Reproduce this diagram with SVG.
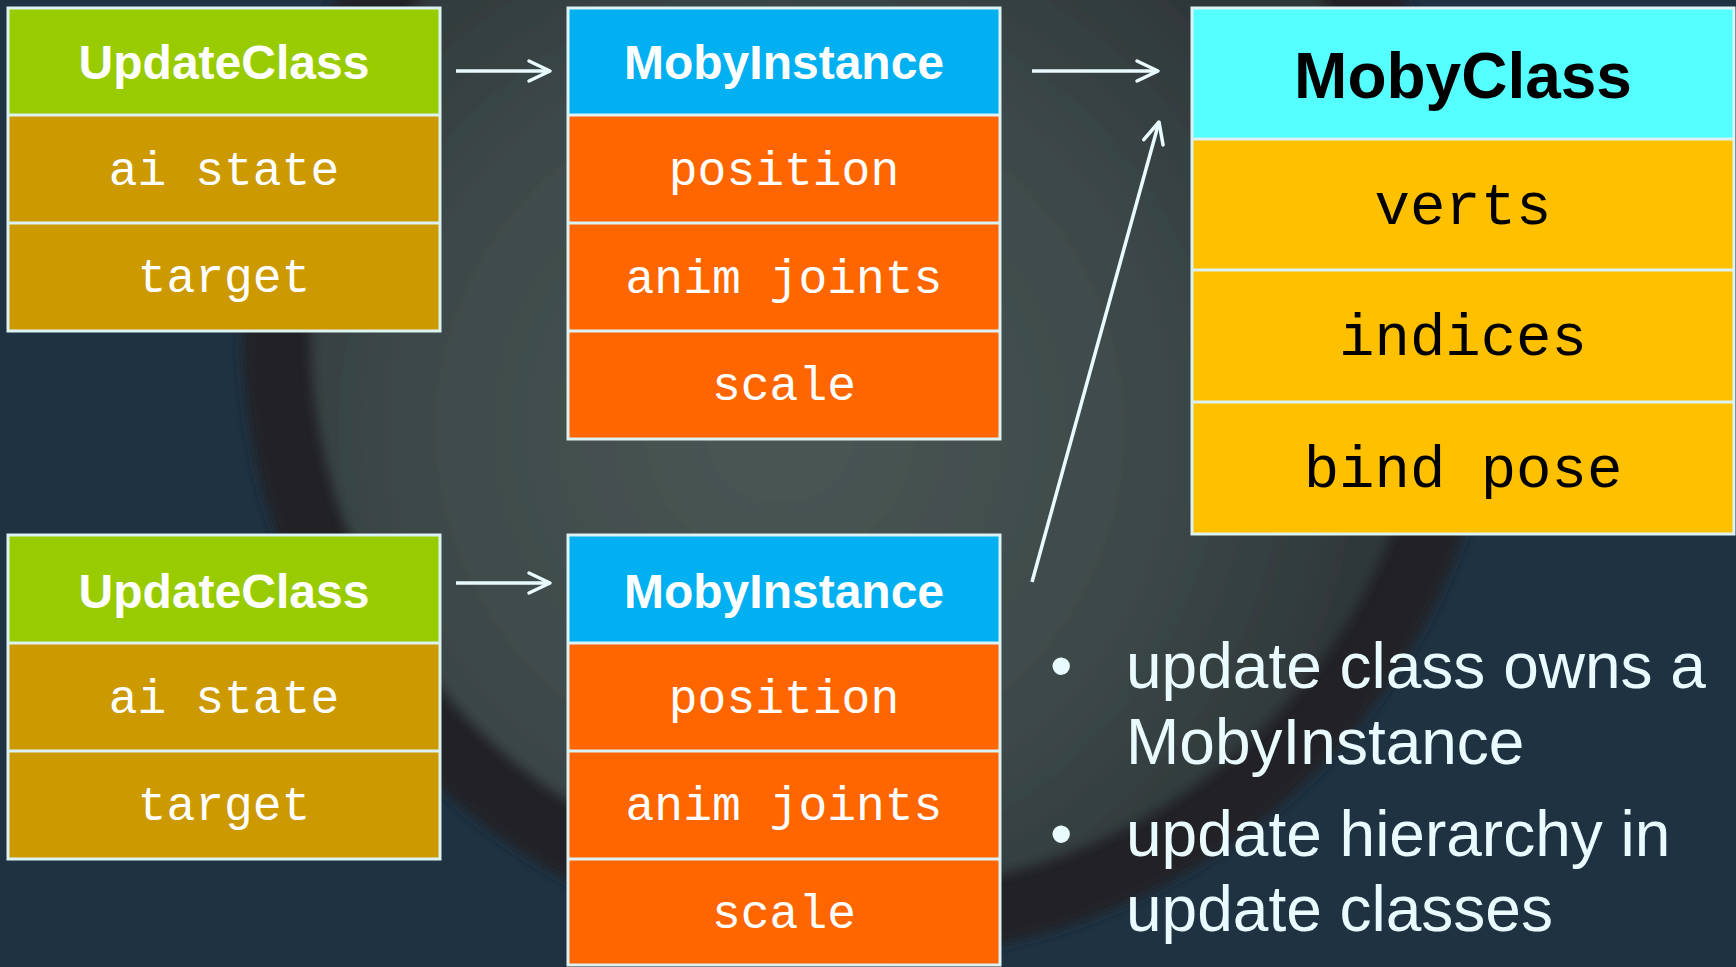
<svg xmlns="http://www.w3.org/2000/svg" width="1736" height="967" viewBox="0 0 1736 967">
<style>
.bd{stroke:#DCF2F4;stroke-width:3;}
.ttl{font-family:"Liberation Sans",Arial,sans-serif;font-weight:bold;font-size:48px;text-anchor:middle;fill:#FFFFFF;}
.ttlb{font-family:"Liberation Sans",Arial,sans-serif;font-weight:bold;font-size:64px;text-anchor:middle;fill:#000000;}
.mono{font-family:"Liberation Mono","Courier New",monospace;font-size:48px;text-anchor:middle;fill:#FFFFFF;}
.monob{font-family:"Liberation Mono","Courier New",monospace;font-size:59px;text-anchor:middle;fill:#000000;}
.bul{font-family:"Liberation Sans",Arial,sans-serif;font-size:64px;fill:#EAFBFF;}
.conn{stroke:#EAFBFF;stroke-width:3.5;fill:none;}
</style>
<defs>
<radialGradient id="moon" cx="780" cy="430" r="600" gradientUnits="userSpaceOnUse">
<stop offset="0" stop-color="#4a5654"/>
<stop offset="0.6" stop-color="#3e4a4a"/>
<stop offset="1" stop-color="#2e3738"/>
</radialGradient>
<filter id="soft" x="-10%" y="-10%" width="120%" height="120%"><feGaussianBlur stdDeviation="6"/></filter>
<marker id="ah" markerUnits="userSpaceOnUse" markerWidth="30" markerHeight="30" viewBox="-25 -15 30 30" refX="0" refY="0" orient="auto">
<path d="M-21,-10 L0,0 L-21,10" fill="none" stroke="#EAFBFF" stroke-width="3.5" stroke-linecap="round" stroke-linejoin="round"/>
</marker>
</defs>
<rect width="1736" height="967" fill="#1e3242"/>
<g id="background">
<circle cx="870" cy="330" r="628" fill="#202426" filter="url(#soft)"/>
<circle cx="870" cy="330" r="560" fill="url(#moon)" filter="url(#soft)"/>
</g>

<g id="updateclass1">
<rect x="8" y="8" width="432" height="107" fill="#99CC00"/>
<rect x="8" y="115" width="432" height="216" fill="#CC9900"/>
<rect x="8" y="8" width="432" height="323" fill="none" class="bd"/>
<line x1="8" y1="115" x2="440" y2="115" class="bd"/>
<line x1="8" y1="223" x2="440" y2="223" class="bd"/>
<text x="224" y="79" class="ttl">UpdateClass</text>
<text x="224" y="185" class="mono">ai state</text>
<text x="224" y="292" class="mono">target</text>
</g>

<g id="mobyinstance1">
<rect x="568" y="8" width="432" height="107" fill="#00B0F0"/>
<rect x="568" y="115" width="432" height="324" fill="#FF6600"/>
<rect x="568" y="8" width="432" height="431" fill="none" class="bd"/>
<line x1="568" y1="115" x2="1000" y2="115" class="bd"/>
<line x1="568" y1="223" x2="1000" y2="223" class="bd"/>
<line x1="568" y1="331" x2="1000" y2="331" class="bd"/>
<text x="784" y="79" class="ttl">MobyInstance</text>
<text x="784" y="185" class="mono">position</text>
<text x="784" y="293" class="mono">anim joints</text>
<text x="784" y="400" class="mono">scale</text>
</g>

<g id="mobyclass">
<rect x="1192" y="8" width="542" height="131" fill="#55FFFF"/>
<rect x="1192" y="139" width="542" height="395" fill="#FFC000"/>
<rect x="1192" y="8" width="542" height="526" fill="none" class="bd"/>
<line x1="1192" y1="139" x2="1734" y2="139" class="bd"/>
<line x1="1192" y1="270" x2="1734" y2="270" class="bd"/>
<line x1="1192" y1="402" x2="1734" y2="402" class="bd"/>
<text x="1463" y="98" class="ttlb">MobyClass</text>
<text x="1463" y="224" class="monob">verts</text>
<text x="1463" y="355" class="monob">indices</text>
<text x="1463" y="487" class="monob">bind pose</text>
</g>

<g id="updateclass2">
<rect x="8" y="535" width="432" height="108" fill="#99CC00"/>
<rect x="8" y="643" width="432" height="216" fill="#CC9900"/>
<rect x="8" y="535" width="432" height="324" fill="none" class="bd"/>
<line x1="8" y1="643" x2="440" y2="643" class="bd"/>
<line x1="8" y1="751" x2="440" y2="751" class="bd"/>
<text x="224" y="608" class="ttl">UpdateClass</text>
<text x="224" y="713" class="mono">ai state</text>
<text x="224" y="820" class="mono">target</text>
</g>

<g id="mobyinstance2">
<rect x="568" y="535" width="432" height="108" fill="#00B0F0"/>
<rect x="568" y="643" width="432" height="322" fill="#FF6600"/>
<rect x="568" y="535" width="432" height="430" fill="none" class="bd"/>
<line x1="568" y1="643" x2="1000" y2="643" class="bd"/>
<line x1="568" y1="751" x2="1000" y2="751" class="bd"/>
<line x1="568" y1="859" x2="1000" y2="859" class="bd"/>
<text x="784" y="608" class="ttl">MobyInstance</text>
<text x="784" y="713" class="mono">position</text>
<text x="784" y="820" class="mono">anim joints</text>
<text x="784" y="928" class="mono">scale</text>
</g>

<g id="connectors">
<line x1="456" y1="71" x2="550" y2="71" class="conn" marker-end="url(#ah)"/>
<line x1="1032" y1="71" x2="1158" y2="71" class="conn" marker-end="url(#ah)"/>
<line x1="456" y1="583" x2="550" y2="583" class="conn" marker-end="url(#ah)"/>
<line x1="1032" y1="582" x2="1159" y2="122" class="conn" marker-end="url(#ah)"/>
</g>

<g id="bullets">
<text x="1050" y="688" class="bul">•</text>
<text x="1126" y="688" class="bul">update class owns a</text>
<text x="1126" y="764" class="bul">MobyInstance</text>
<text x="1050" y="856" class="bul">•</text>
<text x="1126" y="856" class="bul">update hierarchy in</text>
<text x="1126" y="931" class="bul">update classes</text>
</g>
</svg>
